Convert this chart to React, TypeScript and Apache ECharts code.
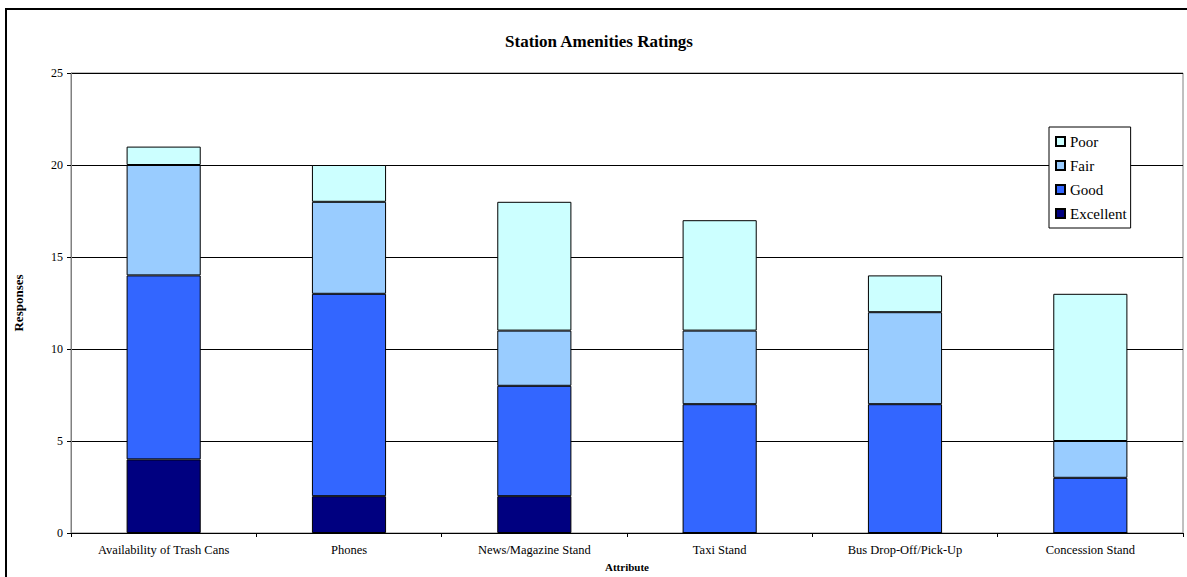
import React, { useEffect, useRef } from "react";
import * as echarts from "echarts";

// Survey responses per station amenity, split by rating
const categories = [
  "Availability of Trash Cans",
  "Phones",
  "News/Magazine Stand",
  "Taxi Stand",
  "Bus Drop-Off/Pick-Up",
  "Concession Stand",
];
const excellent = [4, 2, 2, 0, 0, 0];
const good = [10, 11, 6, 7, 7, 3];
const fair = [6, 5, 3, 4, 5, 2];
const poor = [1, 2, 7, 6, 2, 8];
const yTicks = { min: 0, max: 25, interval: 5 };

const SERIF = "'Liberation Serif', serif";

const ratingSeries = [
  { name: "Excellent", data: excellent, color: "#000080" },
  { name: "Good", data: good, color: "#3366FF" },
  { name: "Fair", data: fair, color: "#99CCFF" },
  { name: "Poor", data: poor, color: "#CCFFFF" },
];

export default function App() {
  const ref = useRef<HTMLDivElement>(null);

  useEffect(() => {
    if (!ref.current) return;
    const chart = echarts.init(ref.current, null, { renderer: "svg" });
    chart.setOption({
      animation: false,
      backgroundColor: "#ffffff",
      textStyle: { fontFamily: SERIF, color: "#000" },
      title: {
        text: "Station Amenities Ratings",
        left: 594,
        top: 28,
        textAlign: "center",
        textStyle: { fontFamily: SERIF, fontSize: 17, fontWeight: "bold", color: "#000" },
      },
      graphic: [
        {
          type: "rect",
          shape: { x: 6, y: 9, width: 1300, height: 700 },
          style: { fill: "none", stroke: "#000", lineWidth: 2 },
          z: 0,
        },
      ],
      grid: {
        left: 71,
        top: 73,
        right: 4,
        bottom: 35,
        show: true,
        borderColor: "#808080",
        borderWidth: 1,
        backgroundColor: "#ffffff",
      },
      legend: {
        data: ["Poor", "Fair", "Good", "Excellent"],
        orient: "vertical",
        left: 1049,
        top: 127,
        backgroundColor: "#ffffff",
        borderColor: "#000",
        borderWidth: 1,
        padding: [7, 4, 7, 6],
        itemGap: 9,
        itemWidth: 9,
        itemHeight: 9,
        icon: "rect",
        formatter: "{t|{name}}",
        textStyle: {
          fontFamily: SERIF,
          fontSize: 15,
          color: "#000",
          rich: { t: { fontFamily: SERIF, fontSize: 15, color: "#000", lineHeight: 16 } },
        },
        z: 10,
      },
      xAxis: {
        type: "category",
        data: categories,
        name: "Attribute",
        nameLocation: "middle",
        nameGap: 28,
        nameTextStyle: { fontFamily: SERIF, fontSize: 11, fontWeight: "bold", color: "#000" },
        axisLine: { lineStyle: { color: "#000", width: 1 } },
        axisTick: { show: true, length: 4, lineStyle: { color: "#000" } },
        axisLabel: { fontFamily: SERIF, fontSize: 12.5, color: "#000", margin: 10 },
      },
      yAxis: {
        type: "value",
        min: yTicks.min,
        max: yTicks.max,
        interval: yTicks.interval,
        name: "Responses",
        nameLocation: "middle",
        nameGap: 46,
        nameRotate: 90,
        nameTextStyle: { fontFamily: SERIF, fontSize: 13, fontWeight: "bold", color: "#000" },
        axisLine: { show: true, lineStyle: { color: "#808080", width: 1 } },
        axisTick: { show: true, length: 4, lineStyle: { color: "#000" } },
        axisLabel: { fontFamily: SERIF, fontSize: 12, color: "#000", margin: 8 },
        splitLine: { show: true, lineStyle: { color: "#000", width: 1 } },
      },
      series: ratingSeries.map((s) => ({
        name: s.name,
        type: "bar",
        stack: "ratings",
        barWidth: "40%",
        data: s.data,
        itemStyle: { color: s.color, borderColor: "#000", borderWidth: 1 },
      })),
    });
    return () => chart.dispose();
  }, []);

  return (
    <div
      ref={ref}
      style={{ position: "fixed", left: 0, top: 0, width: 1187, height: 577 }}
    />
  );
}
